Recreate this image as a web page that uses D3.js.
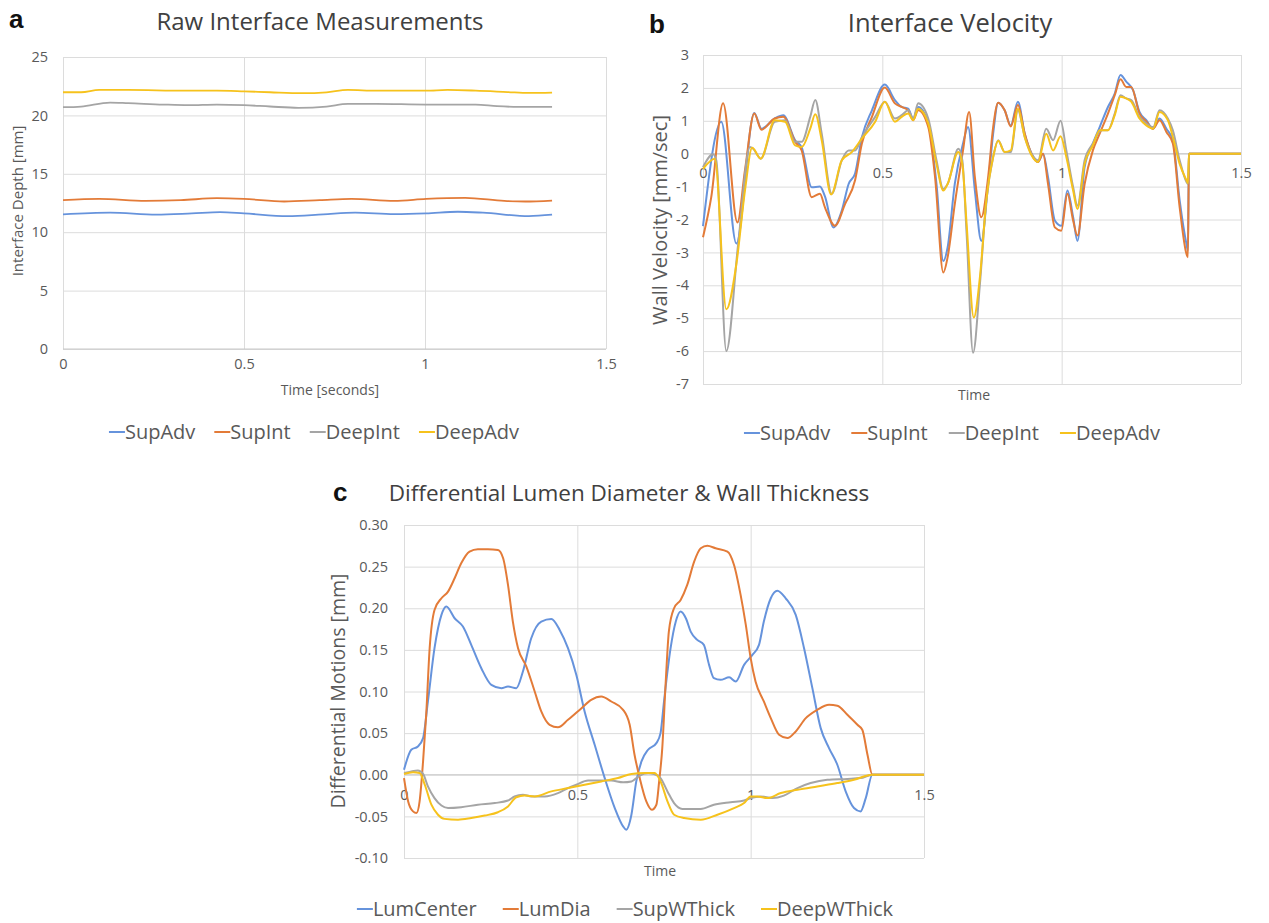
<!DOCTYPE html>
<html>
<head>
<meta charset="utf-8">
<script src="https://cdnjs.cloudflare.com/ajax/libs/d3/7.8.5/d3.min.js"></script>
<style>
  body { margin: 0; background: #fff; }
  text { font-family: "Open Sans", sans-serif; }
</style>
</head>
<body>
<svg id="fig" width="1269" height="923"></svg>
<script>
// ---- data, [time s, value] ----
const timeTicks = [0, 0.5, 1, 1.5];

// panel a: raw interface depth [mm]
const depthTicks = [0, 5, 10, 15, 20, 25];
const rawSupAdv = [[0,11.53],[0.13,11.67],[0.258,11.5],[0.356,11.61],[0.434,11.72],[0.5,11.61],[0.621,11.38],[0.719,11.53],[0.807,11.67],[0.915,11.55],[1.003,11.61],[1.091,11.75],[1.16,11.67],[1.287,11.38],[1.351,11.5]];
const rawSupInt = [[0,12.74],[0.1,12.85],[0.228,12.68],[0.326,12.74],[0.425,12.91],[0.5,12.85],[0.611,12.63],[0.709,12.74],[0.797,12.85],[0.915,12.68],[1.003,12.85],[1.111,12.94],[1.219,12.68],[1.277,12.63],[1.351,12.71]];
const rawDeepInt = [[0,20.7],[0.05,20.76],[0.13,21.1],[0.18,21.05],[0.277,20.93],[0.346,20.88],[0.425,20.93],[0.5,20.88],[0.572,20.76],[0.65,20.65],[0.728,20.76],[0.787,20.99],[0.866,20.99],[1.003,20.93],[1.14,20.93],[1.199,20.79],[1.258,20.73],[1.351,20.73]];
const rawDeepAdv = [[0,21.98],[0.05,21.98],[0.1,22.18],[0.18,22.18],[0.336,22.12],[0.425,22.12],[0.5,22.06],[0.572,21.98],[0.66,21.9],[0.728,21.98],[0.787,22.18],[0.866,22.12],[1.003,22.12],[1.062,22.18],[1.14,22.12],[1.228,22.0],[1.287,21.92],[1.351,21.95]];

// panel b: wall velocity [mm/sec]
const velTicks = [-7, -6, -5, -4, -3, -2, -1, 0, 1, 2, 3];
const velSupAdv = [[0,-2.2],[0.051,0.97],[0.093,-2.73],[0.143,1.24],[0.163,0.76],[0.2,1.07],[0.224,1.17],[0.257,0.41],[0.275,0.2],[0.303,-1.02],[0.326,-1.0],[0.34,-1.3],[0.364,-2.24],[0.387,-1.73],[0.406,-0.92],[0.424,-0.6],[0.443,0.5],[0.471,1.32],[0.507,2.1],[0.535,1.63],[0.554,1.42],[0.572,1.37],[0.586,1.07],[0.6,1.42],[0.628,0.92],[0.651,-0.92],[0.67,-3.26],[0.682,-2.85],[0.702,-0.92],[0.725,0.31],[0.739,0.81],[0.758,-1.12],[0.776,-2.65],[0.795,-0.92],[0.809,0.61],[0.823,1.55],[0.841,1.32],[0.858,0.86],[0.878,1.58],[0.897,0.61],[0.916,0],[0.934,-0.25],[0.948,0],[0.962,-0.71],[0.981,-2.03],[0.999,-2.19],[1.016,-1.12],[1.032,-1.93],[1.044,-2.65],[1.064,-0.41],[1.087,0.31],[1.106,0.81],[1.129,1.42],[1.148,1.83],[1.164,2.39],[1.18,2.19],[1.199,1.93],[1.217,1.27],[1.236,1.02],[1.255,0.76],[1.273,1.07],[1.292,0.76],[1.31,0.41],[1.329,-1.42],[1.348,-2.75],[1.352,-2.95],[1.355,0],[1.5,0]];
const velSupInt = [[0,-2.54],[0.023,-1.32],[0.056,1.53],[0.096,-2.09],[0.117,-0.5],[0.143,1.22],[0.163,0.73],[0.2,1.07],[0.224,1.12],[0.257,0.36],[0.275,0.1],[0.303,-1.32],[0.326,-1.22],[0.34,-1.63],[0.368,-2.19],[0.396,-1.53],[0.424,-0.81],[0.443,0.31],[0.471,1.12],[0.507,2.01],[0.535,1.53],[0.554,1.42],[0.572,1.32],[0.586,1.02],[0.6,1.32],[0.628,0.81],[0.647,-0.71],[0.67,-3.61],[0.682,-3.15],[0.702,-1.53],[0.725,0.1],[0.742,1.27],[0.758,-0.71],[0.776,-1.93],[0.795,-0.71],[0.809,0.81],[0.823,1.55],[0.841,1.32],[0.858,0.83],[0.878,1.48],[0.897,0.61],[0.916,0],[0.934,-0.25],[0.948,0],[0.962,-0.92],[0.981,-2.24],[0.999,-2.34],[1.016,-1.22],[1.032,-2.03],[1.044,-2.49],[1.064,-0.92],[1.087,0.1],[1.106,0.61],[1.129,1.22],[1.148,1.78],[1.164,2.26],[1.18,2.03],[1.194,2.03],[1.217,1.22],[1.236,0.97],[1.255,0.76],[1.273,1.02],[1.292,0.66],[1.31,0.31],[1.329,-1.63],[1.348,-3.05],[1.352,-3.15],[1.355,0],[1.5,0]];
const velDeepInt = [[0,-0.41],[0.028,-0.02],[0.037,-0.2],[0.065,-6.0],[0.098,-2.75],[0.131,0.2],[0.14,0.15],[0.161,-0.15],[0.2,0.97],[0.229,1.02],[0.257,0.36],[0.275,0.36],[0.299,1.12],[0.313,1.63],[0.331,0.61],[0.359,-1.22],[0.387,-0.2],[0.406,0.1],[0.424,0.1],[0.443,0.5],[0.48,1.12],[0.507,1.58],[0.535,1.07],[0.554,1.17],[0.572,1.32],[0.586,1.07],[0.6,1.53],[0.628,1.07],[0.651,-0.2],[0.67,-1.07],[0.682,-0.92],[0.712,0.15],[0.723,-0.2],[0.735,-2.44],[0.753,-6.05],[0.772,-3.97],[0.79,-1.42],[0.809,-0.1],[0.823,0.41],[0.841,0.05],[0.858,0.05],[0.878,1.32],[0.897,0.51],[0.916,0],[0.934,-0.2],[0.957,0.76],[0.976,0.41],[0.997,1.0],[1.013,0.1],[1.032,-1.02],[1.044,-1.58],[1.064,-0.2],[1.087,0.31],[1.111,0.71],[1.129,0.71],[1.148,1.22],[1.164,1.78],[1.18,1.68],[1.194,1.63],[1.217,1.12],[1.236,0.92],[1.255,0.81],[1.273,1.32],[1.296,1.07],[1.31,0.71],[1.329,-0.2],[1.348,-0.86],[1.352,-0.92],[1.355,0],[1.5,0]];
const velDeepAdv = [[0,-0.46],[0.033,-0.15],[0.065,-4.73],[0.093,-3.36],[0.117,-1.12],[0.137,0.18],[0.161,-0.15],[0.2,1.02],[0.229,0.97],[0.257,0.25],[0.275,0.2],[0.299,0.76],[0.313,1.2],[0.331,0.41],[0.357,-1.24],[0.387,-0.2],[0.415,0.05],[0.443,0.46],[0.48,0.97],[0.507,1.58],[0.535,0.97],[0.554,1.12],[0.572,1.22],[0.586,1.02],[0.6,1.37],[0.628,0.92],[0.651,-0.31],[0.67,-1.12],[0.682,-0.92],[0.712,0.05],[0.723,-0.31],[0.735,-2.14],[0.755,-4.98],[0.772,-3.76],[0.79,-1.42],[0.809,-0.1],[0.823,0.39],[0.841,0.05],[0.858,0.1],[0.878,1.37],[0.897,0.51],[0.916,-0.05],[0.934,-0.25],[0.957,0.61],[0.976,0.1],[0.997,0.53],[1.013,-0.1],[1.032,-1.12],[1.044,-1.68],[1.064,-0.31],[1.087,0.25],[1.106,0.71],[1.129,0.71],[1.148,1.17],[1.164,1.73],[1.18,1.68],[1.194,1.58],[1.217,1.07],[1.236,0.86],[1.255,0.76],[1.273,1.27],[1.296,1.02],[1.31,0.51],[1.329,-0.31],[1.348,-0.81],[1.352,-0.9],[1.355,0],[1.5,0]];

// panel c: differential motions [mm]
const diffTicks = [-0.1, -0.05, 0, 0.05, 0.1, 0.15, 0.2, 0.25, 0.3];
const lumCenter = [[0,0.006],[0.021,0.03],[0.04,0.034],[0.055,0.044],[0.069,0.088],[0.088,0.152],[0.108,0.192],[0.122,0.202],[0.146,0.188],[0.17,0.178],[0.194,0.156],[0.223,0.128],[0.252,0.108],[0.281,0.104],[0.3,0.106],[0.324,0.104],[0.343,0.124],[0.367,0.164],[0.396,0.184],[0.425,0.187],[0.449,0.174],[0.473,0.152],[0.497,0.12],[0.521,0.076],[0.55,0.036],[0.579,-0.004],[0.608,-0.04],[0.632,-0.062],[0.641,-0.066],[0.656,-0.048],[0.67,-0.008],[0.685,0.016],[0.704,0.03],[0.728,0.038],[0.74,0.05],[0.75,0.088],[0.769,0.152],[0.784,0.184],[0.798,0.196],[0.813,0.188],[0.827,0.172],[0.846,0.162],[0.865,0.156],[0.88,0.132],[0.894,0.116],[0.913,0.114],[0.938,0.117],[0.957,0.112],[0.981,0.132],[1.005,0.144],[1.024,0.156],[1.038,0.184],[1.058,0.212],[1.077,0.221],[1.101,0.212],[1.13,0.192],[1.154,0.152],[1.178,0.104],[1.202,0.056],[1.226,0.032],[1.25,0.012],[1.274,-0.02],[1.298,-0.04],[1.317,-0.044],[1.332,-0.028],[1.351,0],[1.5,0]];
const lumDia = [[0,-0.004],[0.012,-0.032],[0.026,-0.044],[0.036,-0.046],[0.045,-0.032],[0.055,0.016],[0.064,0.072],[0.074,0.152],[0.088,0.198],[0.108,0.212],[0.127,0.22],[0.146,0.236],[0.165,0.254],[0.189,0.268],[0.213,0.271],[0.242,0.271],[0.271,0.27],[0.286,0.26],[0.3,0.228],[0.314,0.184],[0.329,0.152],[0.353,0.13],[0.377,0.1],[0.396,0.076],[0.42,0.06],[0.444,0.057],[0.473,0.066],[0.512,0.08],[0.54,0.09],[0.569,0.094],[0.598,0.088],[0.632,0.078],[0.651,0.06],[0.665,0.024],[0.68,-0.004],[0.699,-0.032],[0.715,-0.042],[0.728,-0.036],[0.736,-0.008],[0.745,0.032],[0.755,0.112],[0.764,0.172],[0.779,0.2],[0.798,0.21],[0.817,0.228],[0.837,0.256],[0.856,0.272],[0.875,0.275],[0.899,0.272],[0.933,0.268],[0.952,0.252],[0.971,0.216],[0.986,0.18],[1.0,0.14],[1.014,0.112],[1.038,0.088],[1.058,0.068],[1.082,0.048],[1.106,0.044],[1.13,0.052],[1.159,0.068],[1.192,0.078],[1.226,0.084],[1.25,0.083],[1.279,0.072],[1.308,0.06],[1.322,0.054],[1.337,0.024],[1.351,0],[1.5,0]];
const supWThick = [[0,0.002],[0.021,0.004],[0.04,0.005],[0.055,0.001],[0.069,-0.014],[0.088,-0.028],[0.108,-0.037],[0.127,-0.04],[0.165,-0.039],[0.213,-0.036],[0.262,-0.034],[0.3,-0.031],[0.319,-0.026],[0.343,-0.024],[0.367,-0.026],[0.406,-0.026],[0.444,-0.022],[0.473,-0.016],[0.497,-0.012],[0.531,-0.007],[0.56,-0.007],[0.598,-0.007],[0.632,-0.009],[0.656,-0.008],[0.68,-0.001],[0.704,0.002],[0.721,0.001],[0.74,-0.004],[0.76,-0.02],[0.779,-0.034],[0.803,-0.041],[0.856,-0.041],[0.894,-0.036],[0.942,-0.033],[0.981,-0.031],[1.0,-0.028],[1.029,-0.026],[1.063,-0.028],[1.096,-0.025],[1.135,-0.016],[1.173,-0.01],[1.221,-0.006],[1.279,-0.005],[1.317,-0.004],[1.351,0],[1.5,0]];
const deepWThick = [[0,0.001],[0.026,0.003],[0.045,0.002],[0.06,-0.012],[0.079,-0.036],[0.098,-0.048],[0.117,-0.053],[0.156,-0.054],[0.194,-0.052],[0.233,-0.049],[0.271,-0.045],[0.3,-0.038],[0.324,-0.027],[0.348,-0.025],[0.377,-0.026],[0.425,-0.02],[0.473,-0.016],[0.521,-0.012],[0.569,-0.008],[0.617,-0.004],[0.656,0.001],[0.694,0.002],[0.723,0.002],[0.74,-0.008],[0.76,-0.032],[0.779,-0.048],[0.808,-0.052],[0.856,-0.054],[0.904,-0.048],[0.952,-0.04],[0.981,-0.034],[1.0,-0.026],[1.019,-0.026],[1.048,-0.028],[1.087,-0.022],[1.135,-0.018],[1.192,-0.014],[1.25,-0.01],[1.298,-0.006],[1.351,0],[1.5,0]];

const colors = ['#6693dc', '#e37b38', '#a5a5a5', '#f6c21c'];
const ink = '#595959';

const svg = d3.select('#fig');

function panel(o) {
  const x = d3.scaleLinear().domain([0, 1.5]).range([o.left, o.right]);
  const y = d3.scaleLinear().domain(o.yDomain).range([o.bottom, o.top]);
  const g = svg.append('g');

  // gridlines
  g.append('g')
    .attr('transform', `translate(${o.left},0)`)
    .call(d3.axisLeft(y).tickValues(o.yTicks).tickSize(-(o.right - o.left)).tickFormat(''))
    .call(a => a.select('.domain').remove())
    .selectAll('line').attr('stroke', '#dcdcdc');
  g.append('g')
    .attr('transform', `translate(0,${o.bottom})`)
    .call(d3.axisBottom(x).tickValues(timeTicks).tickSize(-(o.bottom - o.top)).tickFormat(''))
    .call(a => a.select('.domain').remove())
    .selectAll('line').attr('stroke', '#dcdcdc');
  // horizontal axis line
  g.append('line')
    .attr('x1', o.left).attr('x2', o.right)
    .attr('y1', y(o.xAt)).attr('y2', y(o.xAt))
    .attr('stroke', '#c8c8c8');

  // tick labels
  g.append('g')
    .attr('transform', `translate(${o.left},0)`)
    .call(d3.axisLeft(y).tickValues(o.yTicks).tickSize(0).tickPadding(o.yPad).tickFormat(o.yFmt))
    .call(a => a.select('.domain').remove())
    .selectAll('text').attr('fill', ink).style('font-size', o.tickSize + 'px');
  g.append('g')
    .attr('transform', `translate(0,${y(o.xAt)})`)
    .call(d3.axisBottom(x).tickValues(timeTicks).tickSize(0).tickPadding(o.xPad).tickFormat(d => String(d)))
    .call(a => a.select('.domain').remove())
    .selectAll('text').attr('fill', ink).style('font-size', o.tickSize + 'px');

  // lines
  const line = d3.line().x(d => x(d[0])).y(d => y(d[1])).curve(d3.curveMonotoneX);
  o.series.forEach((s, i) => {
    g.append('path')
      .attr('d', line(s))
      .attr('fill', 'none')
      .attr('stroke', colors[i])
      .attr('stroke-width', o.lineWidth)
      .attr('stroke-linejoin', 'round');
  });

  // titles
  g.append('text').text(o.letter)
    .attr('x', o.letterPos[0]).attr('y', o.letterPos[1])
    .style('font-family', '"Liberation Sans", Arial, sans-serif')
    .style('font-weight', 'bold').style('font-size', '26px').attr('fill', '#111');
  g.append('text').text(o.title)
    .attr('x', o.titlePos[0]).attr('y', o.titlePos[1])
    .attr('text-anchor', 'middle').attr('fill', '#404040')
    .style('font-size', o.titleSize + 'px');
  g.append('text').text(o.yTitle)
    .attr('transform', `translate(${o.yTitlePos[0]},${o.yTitlePos[1]}) rotate(-90)`)
    .attr('text-anchor', 'middle').attr('fill', ink)
    .style('font-size', o.yTitleSize + 'px');
  g.append('text').text(o.xTitle)
    .attr('x', o.xTitlePos[0]).attr('y', o.xTitlePos[1])
    .attr('text-anchor', 'middle').attr('fill', ink)
    .style('font-size', o.xTitleSize + 'px');

  // legend
  const leg = g.append('g');
  let cx = 0;
  o.names.forEach((n, i) => {
    leg.append('line').attr('x1', cx).attr('x2', cx + 16).attr('y1', 0).attr('y2', 0)
      .attr('stroke', colors[i]).attr('stroke-width', 2);
    const t = leg.append('text').text(n).attr('x', cx + 16).attr('y', 0).attr('dy', '0.35em')
      .attr('fill', ink).style('font-size', o.legendSize + 'px');
    cx += 16 + t.node().getComputedTextLength() + o.legendGap;
  });
  cx -= o.legendGap;
  leg.attr('transform', `translate(${o.legendPos[0] - cx / 2},${o.legendPos[1]})`);
}

const velNames = ['SupAdv', 'SupInt', 'DeepInt', 'DeepAdv'];

panel({
  left: 63, right: 606, top: 57, bottom: 349,
  yDomain: [0, 25], yTicks: depthTicks, yFmt: d => String(d), xAt: 0,
  yPad: 15, xPad: 10, tickSize: 14.5, lineWidth: 1.8,
  series: [rawSupAdv, rawSupInt, rawDeepInt, rawDeepAdv], names: velNames,
  letter: 'a', letterPos: [9, 28],
  title: 'Raw Interface Measurements', titlePos: [320, 30], titleSize: 24,
  yTitle: 'Interface Depth [mm]', yTitlePos: [23, 201], yTitleSize: 15,
  xTitle: 'Time [seconds]', xTitlePos: [330, 395], xTitleSize: 14,
  legendPos: [314, 432], legendSize: 20, legendGap: 19
});

panel({
  left: 703, right: 1241, top: 55, bottom: 384,
  yDomain: [-7, 3], yTicks: velTicks, yFmt: d => String(d), xAt: 0,
  yPad: 14, xPad: 14, tickSize: 14.5, lineWidth: 2,
  series: [velSupAdv, velSupInt, velDeepInt, velDeepAdv], names: velNames,
  letter: 'b', letterPos: [649, 33],
  title: 'Interface Velocity', titlePos: [950, 32], titleSize: 25.5,
  yTitle: 'Wall Velocity [mm/sec]', yTitlePos: [667, 220], yTitleSize: 20,
  xTitle: 'Time', xTitlePos: [974, 400], xTitleSize: 14,
  legendPos: [952, 433], legendSize: 20, legendGap: 21
});

panel({
  left: 404, right: 924, top: 525, bottom: 858,
  yDomain: [-0.1, 0.3], yTicks: diffTicks, yFmt: d => d.toFixed(2), xAt: 0,
  yPad: 16, xPad: 15, tickSize: 14.5, lineWidth: 2,
  series: [lumCenter, lumDia, supWThick, deepWThick],
  names: ['LumCenter', 'LumDia', 'SupWThick', 'DeepWThick'],
  letter: 'c', letterPos: [333, 501],
  title: 'Differential Lumen Diameter & Wall Thickness', titlePos: [629, 501], titleSize: 22.5,
  yTitle: 'Differential Motions [mm]', yTitlePos: [345, 691], yTitleSize: 19.5,
  xTitle: 'Time', xTitlePos: [660, 876], xTitleSize: 14,
  legendPos: [625, 909], legendSize: 20, legendGap: 26
});
</script>
</body>
</html>
